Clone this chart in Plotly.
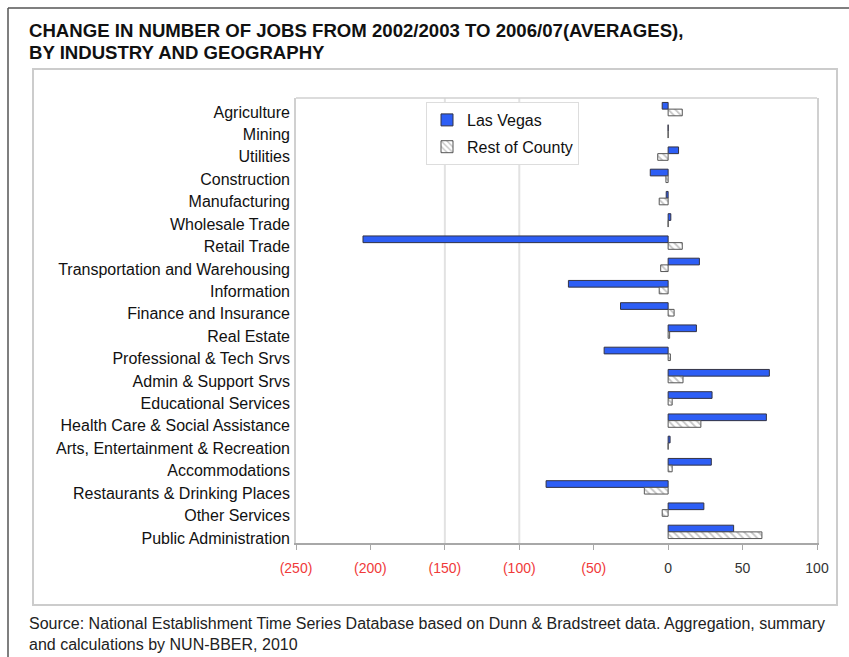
import plotly.graph_objects as go

categories = [
    "Agriculture", "Mining", "Utilities", "Construction", "Manufacturing",
    "Wholesale Trade", "Retail Trade", "Transportation and Warehousing",
    "Information", "Finance and Insurance", "Real Estate",
    "Professional & Tech Srvs", "Admin & Support Srvs", "Educational Services",
    "Health Care & Social Assistance", "Arts, Entertainment & Recreation",
    "Accommodations", "Restaurants & Drinking Places", "Other Services",
    "Public Administration",
]
las_vegas = [-4, 0, 7, -12, -1.3, 1.8, -205, 21, -67, -32, 19, -43, 68, 29.5, 66, 1.3, 29, -82, 24, 44]
rest_of_county = [9.5, 0, -7, -1.5, -6, 0, 9.5, -5, -6, 4, 1, 1.5, 10, 2.7, 22, 0, 2.7, -16, -4, 63]
tick_vals = [-250, -200, -150, -100, -50, 0, 50, 100]
tick_text = ["(250)", "(200)", "(150)", "(100)", "(50)", "0", "50", "100"]

W, H = 849, 657
PL, PR, PT, PB = 296, 817, 98, 543


def px2x(px):
    return (px - PL) / (PR - PL)


def px2y(py):
    return (PB - py) / (PB - PT)


tick_labels = [
    f"<span style='color:#f03a3a'>{t}</span>" if v < 0 else f"<span style='color:#333'>{t}</span>"
    for v, t in zip(tick_vals, tick_text)
]

# label axis scale: category labels are spaced slightly wider than the bars
LBL_TOP, LBL_STEP = 112.0, 22.42
lbl_range = [(PB - LBL_TOP) / LBL_STEP, (PT - LBL_TOP) / LBL_STEP]

fig = go.Figure()
fig.add_trace(go.Bar(
    y=categories, x=las_vegas, orientation="h", name="Las Vegas",
    legendgroup="lv",
    marker=dict(color="#2d5ef5", line=dict(color="#333344", width=1)),
))
fig.add_trace(go.Bar(
    y=categories, x=rest_of_county, orientation="h", name="Rest of County",
    legendgroup="rc",
    marker=dict(color="white", line=dict(color="#555555", width=1),
                pattern=dict(shape="\\", fgcolor="#8a8a8a", bgcolor="white", size=5, solidity=0.35)),
))
# invisible carrier for the category label axis
fig.add_trace(go.Scatter(
    y=categories, x=las_vegas, yaxis="y2", mode="markers",
    marker=dict(opacity=0, size=1), showlegend=False, hoverinfo="skip",
))

shapes = [
    dict(type="line", xref="paper", yref="paper", x0=px2x(8), x1=px2x(W + 5), y0=px2y(8), y1=px2y(8),
         line=dict(color="#555555", width=1.5)),
    dict(type="line", xref="paper", yref="paper", x0=px2x(8), x1=px2x(8), y0=px2y(8), y1=px2y(H + 5),
         line=dict(color="#555555", width=1.5)),
    dict(type="rect", xref="paper", yref="paper", x0=px2x(33), x1=px2x(837), y0=px2y(69), y1=px2y(605),
         line=dict(color="#cccccc", width=2), layer="below"),
    dict(type="line", xref="paper", yref="paper", x0=0, x1=1, y0=1, y1=1,
         line=dict(color="#d0d0d0", width=1.5)),
    dict(type="line", xref="x", yref="paper", x0=-150, x1=-150, y0=0, y1=1,
         line=dict(color="#e2e2e2", width=2), layer="below"),
    dict(type="line", xref="x", yref="paper", x0=-100, x1=-100, y0=0, y1=1,
         line=dict(color="#e2e2e2", width=2), layer="below"),
]

annotations = [
    dict(text="<b>CHANGE IN NUMBER OF JOBS FROM 2002/2003 TO 2006/07(AVERAGES),</b>",
         x=px2x(27), y=px2y(30.5), xanchor="left", yanchor="middle", showarrow=False,
         xref="paper", yref="paper", font=dict(size=18.6, color="#111111", family="Liberation Sans")),
    dict(text="<b>BY INDUSTRY AND GEOGRAPHY</b>",
         x=px2x(27), y=px2y(52.5), xanchor="left", yanchor="middle", showarrow=False,
         xref="paper", yref="paper", font=dict(size=18.6, color="#111111", family="Liberation Sans")),
    dict(text="Source: National Establishment Time Series Database based on Dunn & Bradstreet data. Aggregation, summary",
         x=px2x(27), y=px2y(623), xanchor="left", yanchor="middle", showarrow=False,
         xref="paper", yref="paper", font=dict(size=16, color="#222222", family="Liberation Sans")),
    dict(text="and calculations by NUN-BBER, 2010",
         x=px2x(27), y=px2y(644), xanchor="left", yanchor="middle", showarrow=False,
         xref="paper", yref="paper", font=dict(size=16, color="#222222", family="Liberation Sans")),
]

fig.update_layout(
    width=W, height=H,
    margin=dict(l=PL, r=W - PR, t=PT, b=H - PB, pad=0),
    paper_bgcolor="white", plot_bgcolor="white",
    font=dict(family="Liberation Sans", color="#111111"),
    barmode="group", bargap=0.4, bargroupgap=0,
    showlegend=True,
    legend=dict(x=px2x(426), y=px2y(102), xanchor="left", yanchor="top",
                bgcolor="white", bordercolor="#dddddd", borderwidth=1,
                font=dict(size=16, color="#111111"),
                traceorder="grouped", tracegroupgap=3),
    shapes=shapes,
    annotations=annotations,
    xaxis=dict(range=[-250, 100], tickvals=tick_vals, ticktext=tick_labels,
               showgrid=False, zeroline=False, showline=True, linecolor="#a8a8a8", linewidth=2,
               ticks="outside", ticklen=5, tickcolor="#a8a8a8", tickwidth=1,
               tickfont=dict(size=14), ticklabelstandoff=6, fixedrange=True),
    yaxis=dict(categoryorder="array", categoryarray=categories, autorange="reversed",
               showgrid=False, zeroline=False, showline=True, mirror=True,
               linecolor="#d0d0d0", linewidth=1.5, ticks="", showticklabels=False, fixedrange=True),
    yaxis2=dict(overlaying="y", side="left", categoryorder="array", categoryarray=categories,
                range=lbl_range, autorange=False,
                showgrid=False, zeroline=False, showline=False, ticks="",
                tickfont=dict(size=16, color="#111111"), ticklabelstandoff=5, fixedrange=True),
)

fig.write_html("out.html", config={"displayModeBar": False},
               post_script="document.body.style.margin='0';document.body.style.overflow='hidden';")
